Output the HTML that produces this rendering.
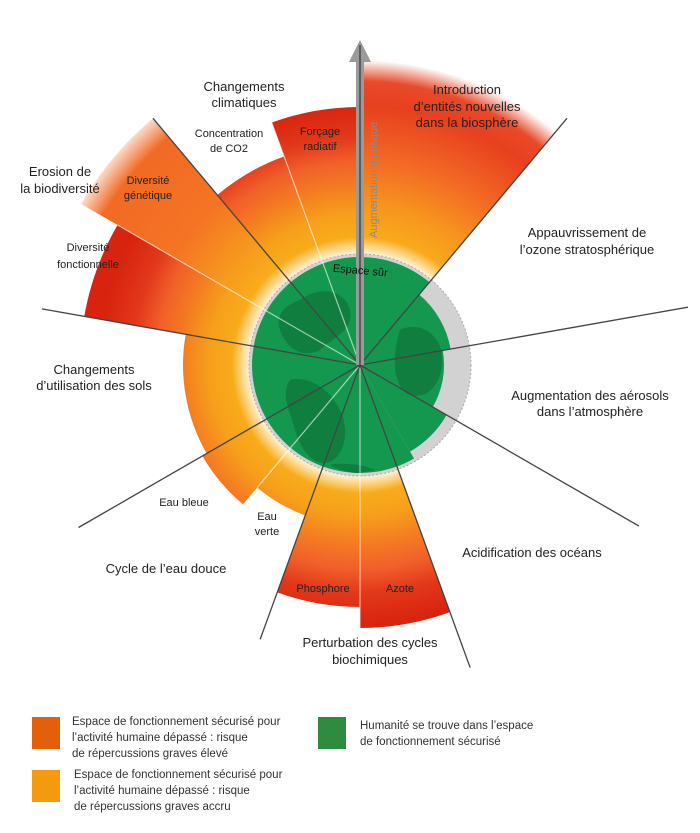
<!DOCTYPE html>
<html><head><meta charset="utf-8"><style>
html,body{margin:0;padding:0;background:#fff;}
svg{display:block;font-family:"Liberation Sans",sans-serif;}
.t13{font-size:13px;fill:#222;}
.t11{font-size:11px;fill:#222;}
.lg{font-size:11.5px;fill:#333;}
</style></head><body>
<svg id="s" width="700" height="833" viewBox="0 0 700 833" xmlns="http://www.w3.org/2000/svg">
<defs>
<radialGradient id="g1" gradientUnits="userSpaceOnUse" cx="360" cy="365" r="300">
<stop offset="0.37" stop-color="#fab41a"/>
<stop offset="0.5" stop-color="#f7a01b"/>
<stop offset="0.6" stop-color="#f47a22"/>
<stop offset="0.68" stop-color="#f15f2a"/>
<stop offset="0.76" stop-color="#e2381b"/>
<stop offset="0.86" stop-color="#d9250f"/>
<stop offset="1" stop-color="#d42010"/>
</radialGradient>
<radialGradient id="gN" gradientUnits="userSpaceOnUse" cx="360" cy="365" r="305">
<stop offset="0.37" stop-color="#fab41a"/>
<stop offset="0.52" stop-color="#f7961e"/>
<stop offset="0.67" stop-color="#f36a25"/>
<stop offset="0.85" stop-color="#e7401e"/>
<stop offset="0.93" stop-color="#e84a2a"/>
<stop offset="1" stop-color="#ffffff"/>
</radialGradient>
<radialGradient id="gG" gradientUnits="userSpaceOnUse" cx="360" cy="365" r="330">
<stop offset="0.35" stop-color="#fab41a"/>
<stop offset="0.5" stop-color="#f7961e"/>
<stop offset="0.65" stop-color="#f47424"/>
<stop offset="0.9" stop-color="#f26a24"/>
<stop offset="1" stop-color="#ffffff"/>
</radialGradient>
<radialGradient id="glow" gradientUnits="userSpaceOnUse" cx="360" cy="365" r="128">
<stop offset="0.84" stop-color="#fff" stop-opacity="1"/>
<stop offset="1" stop-color="#fff" stop-opacity="0"/>
</radialGradient>
</defs>
<g id="wedges"></g>
<circle cx="360" cy="365" r="128" fill="url(#glow)"/>
<circle cx="360" cy="365" r="111" fill="#d2d2d2" stroke="#aaa" stroke-width="1" stroke-dasharray="2,2"/>
<g id="green"></g>
<g id="lines"></g>
<rect x="356" y="58" width="8" height="307" fill="#9a9a9a"/>
<polygon points="349,62 371,62 360,40" fill="#9a9a9a"/>
<line x1="360" y1="45" x2="360" y2="365" stroke="#333" stroke-width="1.2"/>
<text class="t11" transform="translate(377,238) rotate(-90)" style="fill:#8a8a8a">Augmentation du risque</text>
<text class="t11" transform="translate(360,274) rotate(5)" text-anchor="middle" style="fill:#111">Espace sûr</text>

<g text-anchor="middle">
<text class="t13" x="244" y="91">Changements</text>
<text class="t13" x="244" y="107">climatiques</text>
<text class="t11" x="229" y="137">Concentration</text>
<text class="t11" x="229" y="152">de CO2</text>
<text class="t11" x="320" y="135">Forçage</text>
<text class="t11" x="320" y="150">radiatif</text>
<text class="t13" x="467" y="94">Introduction</text>
<text class="t13" x="467" y="111">d’entités nouvelles</text>
<text class="t13" x="467" y="127">dans la biosphère</text>
<text class="t13" x="587" y="237">Appauvrissement de</text>
<text class="t13" x="587" y="254">l’ozone stratosphérique</text>
<text class="t13" x="590" y="400">Augmentation des aérosols</text>
<text class="t13" x="590" y="416">dans l’atmosphère</text>
<text class="t13" x="532" y="557">Acidification des océans</text>
<text class="t13" x="370" y="647">Perturbation des cycles</text>
<text class="t13" x="370" y="664">biochimiques</text>
<text class="t11" x="323" y="592">Phosphore</text>
<text class="t11" x="400" y="592">Azote</text>
<text class="t13" x="166" y="573">Cycle de l’eau douce</text>
<text class="t11" x="184" y="506">Eau bleue</text>
<text class="t11" x="267" y="520">Eau</text>
<text class="t11" x="267" y="535">verte</text>
<text class="t13" x="94" y="374">Changements</text>
<text class="t13" x="94" y="390">d’utilisation des sols</text>
<text class="t11" x="88" y="251">Diversité</text>
<text class="t11" x="88" y="268">fonctionnelle</text>
<text class="t11" x="148" y="184">Diversité</text>
<text class="t11" x="148" y="199">génétique</text>
<text class="t13" x="60" y="176">Erosion de</text>
<text class="t13" x="60" y="193">la biodiversité</text>
</g>

<rect x="32" y="717" width="28" height="32" fill="#e2600c"/>
<rect x="32" y="770" width="28" height="32" fill="#f49a0e"/>
<rect x="318" y="717" width="28" height="32" fill="#2f8c3e"/>
<text class="lg" x="72" y="725">Espace de fonctionnement sécurisé pour</text>
<text class="lg" x="72" y="741">l’activité humaine dépassé : risque</text>
<text class="lg" x="72" y="757">de répercussions graves élevé</text>
<text class="lg" x="74" y="778">Espace de fonctionnement sécurisé pour</text>
<text class="lg" x="74" y="794">l’activité humaine dépassé : risque</text>
<text class="lg" x="74" y="810">de répercussions graves accru</text>
<text class="lg" x="360" y="729">Humanité se trouve dans l’espace</text>
<text class="lg" x="360" y="745">de fonctionnement sécurisé</text>
</svg>
<script>
var cx=360,cy=365,NS="http://www.w3.org/2000/svg";
function P(r,a){a=a*Math.PI/180;return [cx+r*Math.sin(a),cy-r*Math.cos(a)];}
function wedge(r,a1,a2){var p1=P(r,a1),p2=P(r,a2);var l=(a2-a1)>180?1:0;
return "M"+cx+","+cy+" L"+p1[0]+","+p1[1]+" A"+r+","+r+" 0 "+l+" 1 "+p2[0]+","+p2[1]+" Z";}
function add(g,d,fill,extra){var e=document.createElementNS(NS,"path");e.setAttribute("d",d);e.setAttribute("fill",fill);
if(extra)for(var k in extra)e.setAttribute(k,extra[k]);document.getElementById(g).appendChild(e);}
add("wedges",wedge(305,0,40),"url(#gN)");
add("wedges",wedge(258,340,360),"url(#g1)");
add("wedges",wedge(222,320,340),"url(#g1)");
add("wedges",wedge(322,300,320),"url(#gG)");
add("wedges",wedge(280,280,300),"url(#g1)");
add("wedges",wedge(177,240,280),"url(#g1)");
add("wedges",wedge(182,220,240),"url(#g1)");
add("wedges",wedge(160,200,220),"url(#g1)");
add("wedges",wedge(242,180,200),"url(#g1)");
add("wedges",wedge(263,160,180),"url(#g1)");
add("green",wedge(108,150,400),"#14984f");
add("green",wedge(92,40,80),"#14984f");
add("green",wedge(84,80,120),"#14984f");
add("green",wedge(100,120,150),"#14984f");
add("green","M300,300 C320,285 345,290 350,310 C355,330 330,340 320,350 C300,360 285,345 280,330 C275,315 285,305 300,300 Z","#0f7e3f");
add("green","M290,380 C310,375 330,390 340,410 C350,430 345,455 330,462 C315,468 300,450 295,430 C290,410 280,395 290,380 Z","#0f7e3f");
add("green","M400,330 C420,320 440,335 442,355 C444,380 430,400 410,395 C395,390 390,360 400,330 Z","#0f7e3f");
add("green","M330,465 C345,462 365,465 375,470 L360,473 C350,473 338,470 330,465 Z","#0f7e3f");
[[340,258],[300,280],[220,160],[180,263]].forEach(function(s){var p=P(s[1],s[0]);
var e=document.createElementNS(NS,"line");e.setAttribute("x1",cx);e.setAttribute("y1",cy);e.setAttribute("x2",p[0]);e.setAttribute("y2",p[1]);
e.setAttribute("stroke","#ffffff");e.setAttribute("stroke-opacity","0.6");e.setAttribute("stroke-width","1.2");document.getElementById("lines").appendChild(e);});
[[40,322],[80,333],[120,322],[160,322],[200,292],[240,325],[280,323],[320,322]].forEach(function(s){var p=P(s[1],s[0]);
var e=document.createElementNS(NS,"line");e.setAttribute("x1",cx);e.setAttribute("y1",cy);e.setAttribute("x2",p[0]);e.setAttribute("y2",p[1]);
e.setAttribute("stroke","#444");e.setAttribute("stroke-width","1.3");document.getElementById("lines").appendChild(e);});
</script>
</body></html>
